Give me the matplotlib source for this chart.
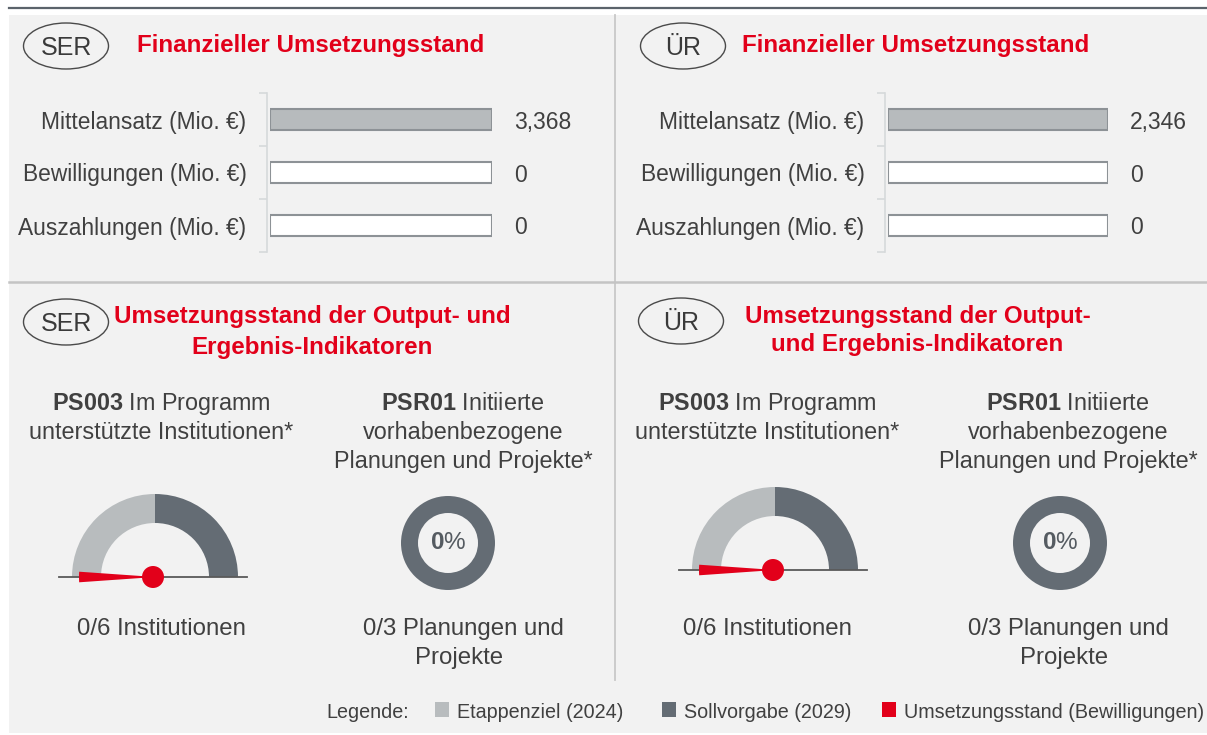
import matplotlib.pyplot as plt
from matplotlib.patches import Rectangle, Ellipse, Wedge, Circle

plt.rcParams['font.family'] = ['Liberation Sans', 'DejaVu Sans']
plt.rcParams['mathtext.fontset'] = 'custom'
plt.rcParams['mathtext.rm'] = 'Liberation Sans'
plt.rcParams['mathtext.bf'] = 'Liberation Sans:bold'

# data
regions = ['SER', 'ÜR']
fin_rows = ['Mittelansatz (Mio. €)', 'Bewilligungen (Mio. €)', 'Auszahlungen (Mio. €)']
fin_ser = [3.368, 0, 0]
fin_ur = [2.346, 0, 0]

ps003_etappe = [3, 3]     # Etappenziel (2024), SER / ÜR
ps003_soll = [6, 6]       # Sollvorgabe (2029)
ps003_ist = [0, 0]        # Umsetzungsstand
psr01_soll = [3, 3]
psr01_ist = [0, 0]

legend_labels = ['Etappenziel (2024)', 'Sollvorgabe (2029)', 'Umsetzungsstand (Bewilligungen)']

red = '#e2001a'
dark = '#646c74'
light = '#b8bcbe'
txt = '#404040'
bar_edge = '#8d9296'
bracket = '#d6d9db'

W, H = 1207, 735
fig = plt.figure(figsize=(W / 100, H / 100), dpi=100)
fig.patch.set_facecolor('white')


def px_axes(x0, y0, w, h):
    ax = fig.add_axes([x0 / W, 1 - (y0 + h) / H, w / W, h / H])
    ax.set_facecolor('none')
    return ax


bg = fig.add_axes([0, 0, 1, 1])
bg.set_xlim(0, W)
bg.set_ylim(H, 0)
bg.axis('off')
bg.add_patch(Rectangle((9, 15), W - 9, 718, color='#f2f2f2', lw=0))
bg.plot([9, W], [8, 8], color='#5b636b', lw=1.6)
bg.plot([615, 615], [15, 680], color='#c8c8c8', lw=1.3)
bg.plot([9, W], [282, 282], color='#c4c4c4', lw=1.8)


def badge(cx, cy, label):
    bg.add_patch(Ellipse((cx, cy), 85, 46, fc='none', ec='#4a4a4a', lw=1.0))
    bg.text(cx, cy + 9, label, ha='center', va='baseline', fontsize=18, color='#3a3a3a')


def fin_panel(x0, w, vals):
    ax = px_axes(x0, 93, w, 159)
    scale = max(vals)
    y = range(len(vals))
    ax.barh(y, [scale] * len(vals), height=0.38, color='white', lw=0, zorder=1)
    ax.barh(y, vals, height=0.38, color='#b7bbbd', lw=0, zorder=2)
    ax.barh(y, [scale] * len(vals), height=0.38, fc='none', ec=bar_edge, lw=1.5, zorder=3)
    ax.set_xlim(0, scale)
    ax.set_ylim(2.5, -0.5)
    for s in ['top', 'right', 'bottom']:
        ax.spines[s].set_visible(False)
    ax.spines['left'].set_position(('outward', 2))
    ax.spines['left'].set_color(bracket)
    ax.spines['left'].set_linewidth(1.2)
    ax.xaxis.set_visible(False)
    ax.set_yticks(list(y), labels=fin_rows, fontsize=16.4, color=txt)
    ax.set_yticks([-0.5, 0.5, 1.5, 2.5], minor=True)
    ax.tick_params(axis='y', which='major', length=0, pad=15)
    ax.tick_params(axis='y', which='minor', length=6, width=1.2, color=bracket)
    for i, v in enumerate(vals):
        lab = '0' if v == 0 else f'{v:.3f}'.replace('.', ',')
        ax.annotate(lab, xy=(scale, i), xytext=(16, 0), textcoords='offset points',
                    va='center_baseline', ha='left', fontsize=16.5, color=txt,
                    annotation_clip=False)


def gauge(cx, cy, etappe, soll, ist):
    ax = px_axes(cx - 100, cy - 100, 200, 115)
    a_et = 180 - 180 * etappe / soll
    ax.add_patch(Wedge((0, 0), 83, a_et, 180, width=29, color=light, lw=0))
    ax.add_patch(Wedge((0, 0), 83, 0, a_et, width=29, color=dark, lw=0))
    ax.plot([-96, 92], [0, 0], color='#5a5a5a', lw=1.3, zorder=3)
    a_ist = 180 - 180 * ist / soll
    ax.add_patch(Wedge((0, 0), 76, a_ist - 4, a_ist + 4, color=red, lw=0, zorder=4))
    ax.add_patch(Circle((-2, 0), 11, color=red, lw=0, zorder=5))
    ax.set_xlim(-100, 100)
    ax.set_ylim(-15, 100)
    ax.axis('off')


def donut(cx, cy, ist, soll):
    ax = px_axes(cx - 50, cy - 50, 100, 100)
    vals, cols = [], []
    for v, c in zip([ist, soll - ist], [red, dark]):
        if v > 0:
            vals.append(v)
            cols.append(c)
    ax.pie(vals, colors=cols, radius=47, startangle=90, counterclock=False,
           wedgeprops=dict(width=17, linewidth=0))
    pct = round(100 * ist / soll)
    ax.text(0, 0, '$\\mathbf{%d}$%%' % pct, ha='center', va='center', fontsize=17.5, color='#555b61')
    ax.set_xlim(-50, 50)
    ax.set_ylim(-50, 50)
    ax.axis('off')


# financial part
badge(66, 46, regions[0])
badge(683, 46, regions[1])
bg.text(137, 52, 'Finanzieller Umsetzungsstand', fontsize=17.4, fontweight='bold', color=red, va='baseline')
bg.text(742, 52, 'Finanzieller Umsetzungsstand', fontsize=17.4, fontweight='bold', color=red, va='baseline')
fin_panel(270, 222, fin_ser)
fin_panel(888, 220, fin_ur)

# indicator part
badge(66, 322, regions[0])
badge(681, 321, regions[1])
bg.text(312, 323, 'Umsetzungsstand der Output- und', fontsize=17.4, fontweight='bold', color=red,
        ha='center', va='baseline')
bg.text(312, 354, 'Ergebnis-Indikatoren', fontsize=17.4, fontweight='bold', color=red,
        ha='center', va='baseline')
bg.text(918, 323, 'Umsetzungsstand der Output-', fontsize=17.4, fontweight='bold', color=red,
        ha='center', va='baseline')
bg.text(917, 351, 'und Ergebnis-Indikatoren', fontsize=17.4, fontweight='bold', color=red,
        ha='center', va='baseline')

col_ps = [161, 767]
col_psr = [463, 1068]
gauge_c = [(155, 577), (775, 570)]
donut_c = [(448, 543), (1060, 543)]

for k in range(2):
    kw = dict(ha='center', va='baseline', fontsize=16.8, color=txt)
    bg.text(col_ps[k], 410, '$\\mathbf{PS003}$ Im Programm', **kw)
    bg.text(col_ps[k], 439, 'unterstützte Institutionen*', **kw)
    bg.text(col_psr[k], 410, '$\\mathbf{PSR01}$ Initiierte', **kw)
    bg.text(col_psr[k], 439, 'vorhabenbezogene', **kw)
    bg.text(col_psr[k], 468, 'Planungen und Projekte*', **kw)

    gauge(gauge_c[k][0], gauge_c[k][1], ps003_etappe[k], ps003_soll[k], ps003_ist[k])
    donut(donut_c[k][0], donut_c[k][1], psr01_ist[k], psr01_soll[k])

    kw['fontsize'] = 17.3
    bg.text(col_ps[k], 635, f'{ps003_ist[k]}/{ps003_soll[k]} Institutionen', **kw)
    bg.text(col_psr[k], 635, f'{psr01_ist[k]}/{psr01_soll[k]} Planungen und', **kw)
    bg.text(col_psr[k] - 4, 664, 'Projekte', **kw)

# legend
bg.text(326, 718, 'Legende:', fontsize=14.2, color=txt, va='baseline')
leg_x = [457, 684, 904]
for lx, lab, c in zip(leg_x, legend_labels, [light, dark, red]):
    bg.add_patch(Rectangle((lx - 22, 702), 14, 15, color=c, lw=0))
    bg.text(lx, 718, lab, fontsize=14.2, color=txt, va='baseline')

fig.savefig('out.png', dpi=100)
